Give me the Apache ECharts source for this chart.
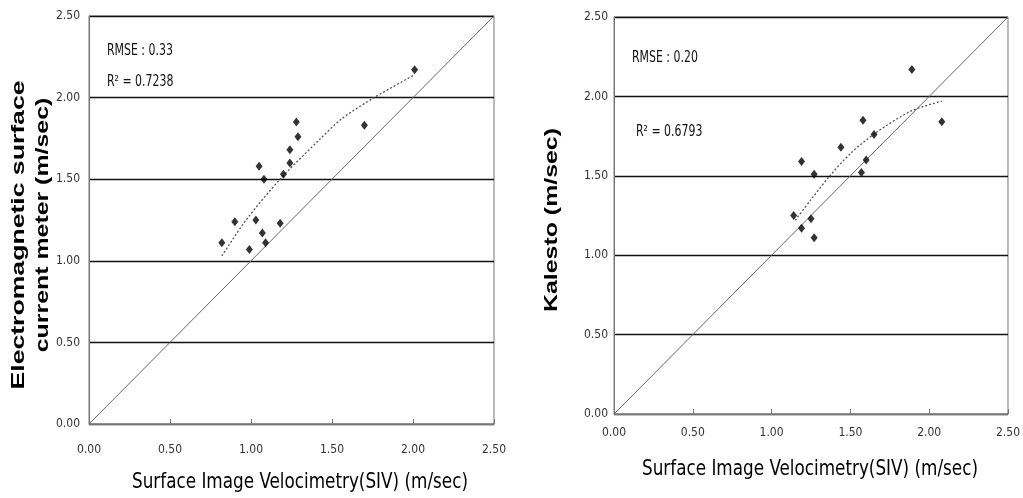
<!DOCTYPE html>
<html><head><meta charset="utf-8">
<script src="https://cdn.jsdelivr.net/npm/echarts@6/dist/echarts.min.js"></script>
<style>html,body{margin:0;padding:0;background:#fff}#c{width:1023px;height:498px}</style>
</head><body><div id="c"></div>
<script>
// Left panel: SIV vs electromagnetic surface current meter
const leftPoints = [
  [0.82,1.11],[0.90,1.24],[0.99,1.07],[1.03,1.25],[1.05,1.58],[1.08,1.50],
  [1.07,1.17],[1.09,1.11],[1.18,1.23],[1.20,1.53],[1.24,1.60],[1.24,1.68],
  [1.28,1.85],[1.29,1.76],[1.70,1.83],[2.01,2.17]
];
const leftTrend = [[0.82,1.03],[0.97,1.25],[1.18,1.50],[1.42,1.74],[1.56,1.87],[1.76,2.00],[2.01,2.14]];
// Right panel: SIV vs Kalesto
const rightPoints = [
  [1.14,1.25],[1.19,1.59],[1.19,1.17],[1.25,1.23],[1.27,1.51],[1.27,1.11],
  [1.44,1.68],[1.57,1.52],[1.58,1.85],[1.60,1.60],[1.65,1.76],[1.89,2.17],[2.08,1.84]
];
const rightTrend = [[1.15,1.22],[1.25,1.35],[1.37,1.50],[1.50,1.64],[1.66,1.77],[1.89,1.91],[2.08,1.97]];
const identityLine = [[0,0],[2.5,2.5]];
const tickLabels = ['0.00','0.50','1.00','1.50','2.00','2.50'];
const xTitle = 'Surface Image Velocimetry(SIV) (m/sec)';
const leftYTitle = ['Electromagnetic surface','current meter (m/sec)'];
const rightYTitle = 'Kalesto (m/sec)';
const leftStats = ['RMSE : 0.33','R\u00B2 = 0.7238'];
const rightStats = ['RMSE : 0.20','R\u00B2 = 0.6793'];

const narrow = "'Liberation Sans Narrow','DejaVu Sans Condensed','Roboto Condensed',sans-serif";
const boldFont = "'Liberation Sans',Arial,sans-serif";
const fmt = v => tickLabels[Math.round(v/0.5)];

function xAxis(gi, margin){
  return {type:'value', gridIndex:gi, min:0, max:2.5, interval:0.5,
    axisLine:{show:true, lineStyle:{color:'#777', width:1}},
    axisTick:{show:true, inside:true, length:5, lineStyle:{color:'#777'}},
    splitLine:{show:false},
    axisLabel:{formatter:fmt, fontFamily:narrow, fontSize:12, color:'#333', margin:margin}};
}
function yAxis(gi, margin){
  return {type:'value', gridIndex:gi, min:0, max:2.5, interval:0.5,
    axisLine:{show:true, lineStyle:{color:'#777', width:1}},
    axisTick:{show:false},
    splitLine:{show:true, lineStyle:{color:'#111', width:1.3}},
    axisLabel:{formatter:fmt, fontFamily:narrow, fontSize:12, color:'#333', margin:margin}};
}
function seriesFor(gi, pts, trend){
  return [
    {type:'line', xAxisIndex:gi, yAxisIndex:gi, data:identityLine, symbol:'none',
      lineStyle:{color:'#666', width:1}, silent:true, z:2},
    {type:'line', xAxisIndex:gi, yAxisIndex:gi, data:trend, symbol:'none', smooth:0.3,
      lineStyle:{color:'#555', width:1.3, type:[2,2]}, silent:true, z:3},
    {type:'scatter', xAxisIndex:gi, yAxisIndex:gi, data:pts, symbol:'diamond', symbolSize:[7,9],
      itemStyle:{color:'#000'}, z:4}
  ];
}
function txt(text, x, y, size, opts){
  return Object.assign({type:'text', x:x, y:y,
    style:{text:text, fontFamily:narrow, fontSize:size, fill:'#111', align:'left', verticalAlign:'middle'}}, opts||{});
}
const chart = echarts.init(document.getElementById('c'), null, {renderer:'canvas'});
chart.setOption({
  animation:false,
  backgroundColor:'#fff',
  grid:[
    {left:89, top:16, width:405, height:408, show:true, borderColor:'#777', borderWidth:1, backgroundColor:'transparent'},
    {left:614, top:17, width:400, height:397, show:true, borderColor:'#777', borderWidth:1, backgroundColor:'transparent'}
  ],
  xAxis:[xAxis(0,20), xAxis(1,13)],
  yAxis:[yAxis(0,9), yAxis(1,6)],
  series:[...seriesFor(0,leftPoints,leftTrend), ...seriesFor(1,rightPoints,rightTrend)],
  graphic:[
    txt(leftStats[0], 107, 51, 16, {scaleX:0.76}),
    txt(leftStats[1], 107, 82, 16, {scaleX:0.76}),
    txt(rightStats[0], 632, 58, 16, {scaleX:0.76}),
    txt(rightStats[1], 636, 132, 16, {scaleX:0.76}),
    {type:'text', x:300, y:483, scaleX:0.89, style:{text:xTitle, fontFamily:narrow, fontSize:21, fill:'#000', align:'center', verticalAlign:'middle'}},
    {type:'text', x:810, y:470, scaleX:0.89, style:{text:xTitle, fontFamily:narrow, fontSize:21, fill:'#000', align:'center', verticalAlign:'middle'}},
    {type:'text', x:19, y:235, rotation:Math.PI/2, scaleX:1.40, style:{text:leftYTitle[0], fontFamily:boldFont, fontWeight:'bold', fontSize:19, fill:'#000', align:'center', verticalAlign:'middle'}},
    {type:'text', x:43, y:225, rotation:Math.PI/2, scaleX:1.31, style:{text:leftYTitle[1], fontFamily:boldFont, fontWeight:'bold', fontSize:19, fill:'#000', align:'center', verticalAlign:'middle'}},
    {type:'text', x:552, y:220, rotation:Math.PI/2, scaleX:1.31, style:{text:rightYTitle, fontFamily:boldFont, fontWeight:'bold', fontSize:19, fill:'#000', align:'center', verticalAlign:'middle'}}
  ]
});
</script></body></html>
